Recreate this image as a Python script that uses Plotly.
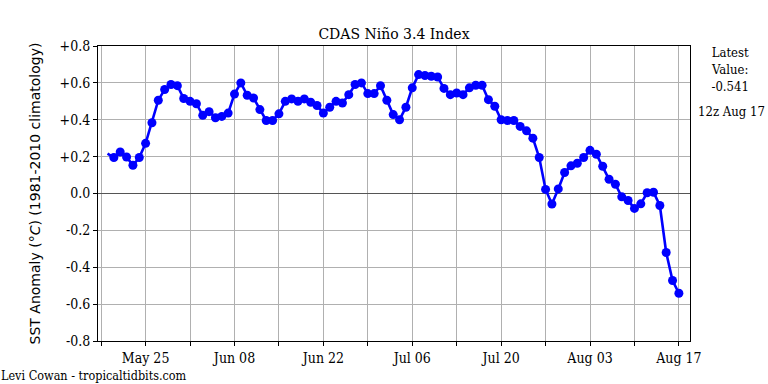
import datetime as dt
import plotly.graph_objects as go

# ---- data ----
start_date = "2020-05-19"
nino34 = [
    0.216, 0.195, 0.225, 0.198, 0.153, 0.195, 0.272, 0.384, 0.506, 0.564,
    0.591, 0.585, 0.515, 0.500, 0.487, 0.424, 0.444, 0.411, 0.418, 0.436,
    0.539, 0.600, 0.533, 0.518, 0.455, 0.396, 0.396, 0.432, 0.500, 0.513,
    0.500, 0.513, 0.495, 0.477, 0.436, 0.468, 0.500, 0.491, 0.536, 0.591,
    0.600, 0.542, 0.542, 0.585, 0.506, 0.428, 0.400, 0.468, 0.573, 0.645,
    0.640, 0.636, 0.632, 0.570, 0.536, 0.545, 0.536, 0.573, 0.587, 0.587,
    0.509, 0.473, 0.400, 0.396, 0.396, 0.364, 0.340, 0.300, 0.195, 0.022,
    -0.057, 0.025, 0.114, 0.150, 0.164, 0.195, 0.234, 0.213, 0.148, 0.077,
    0.050, -0.018, -0.038, -0.081, -0.056, 0.004, 0.007, -0.065, -0.320, -0.472,
    -0.541,
]
y_tick_values = [0.8, 0.6, 0.4, 0.2, 0.0, -0.2, -0.4, -0.6, -0.8]
y_tick_labels = ["+0.8", "+0.6", "+0.4", "+0.2", "0.0", "-0.2", "-0.4", "-0.6", "-0.8"]
x_tick_dates = ["2020-05-18", "2020-05-25", "2020-06-01", "2020-06-08", "2020-06-15",
                "2020-06-22", "2020-06-29", "2020-07-06", "2020-07-13", "2020-07-20",
                "2020-07-27", "2020-08-03", "2020-08-10", "2020-08-17"]
x_tick_labels = ["", "May 25", "", "Jun 08", "", "Jun 22", "", "Jul 06", "",
                 "Jul 20", "", "Aug 03", "", "Aug 17"]
latest_value = "-0.541"
latest_time = "12z Aug 17"

d0 = dt.date.fromisoformat(start_date)
dates = [d0 + dt.timedelta(days=i) for i in range(len(nino34))]
sizes = [0] + [9] * (len(nino34) - 1)

SERIF = "DejaVu Serif"
COND = "DejaVu Serif Condensed, DejaVu Serif"

fig = go.Figure()
fig.add_trace(go.Scatter(
    x=dates, y=nino34, mode="lines+markers",
    line=dict(color="#0000ff", width=2.6),
    marker=dict(color="#0000ff", size=sizes, line=dict(width=0), opacity=1),
    showlegend=False,
))

fig.update_layout(
    width=768, height=384,
    margin=dict(l=98, r=78, t=46, b=43),
    paper_bgcolor="white", plot_bgcolor="white",
    title=dict(text="CDAS Niño 3.4 Index", x=0.513, xanchor="center",
               y=0.912, yanchor="middle",
               font=dict(family=SERIF, size=14, color="black")),
    font=dict(family=SERIF, color="black"),
)
fig.update_xaxes(
    range=["2020-05-17 12:00", "2020-08-18 18:00"],
    tickmode="array", tickvals=x_tick_dates, ticktext=x_tick_labels,
    showgrid=True, gridcolor="#b0b0b0", gridwidth=1,
    ticks="outside", ticklen=4, tickcolor="black",
    showline=True, linecolor="black", linewidth=1, mirror=True,
    tickfont=dict(family=COND, size=14), zeroline=False,
)
fig.update_yaxes(
    range=[-0.8, 0.8],
    tickmode="array", tickvals=y_tick_values, ticktext=y_tick_labels,
    showgrid=True, gridcolor="#b0b0b0", gridwidth=1,
    ticks="outside", ticklen=4, tickcolor="black",
    showline=True, linecolor="black", linewidth=1, mirror=True,
    tickfont=dict(family=COND, size=14),
    zeroline=True, zerolinecolor="#555555", zerolinewidth=1.3,
    title=dict(text="SST Anomaly (<i>°C</i>) (1981-2010 climatology)",
               font=dict(family="DejaVu Sans", size=14), standoff=15),
)

fig.add_annotation(xref="paper", yref="paper", x=1.068, y=1.01, xanchor="center", yanchor="top",
                   text="Latest<br>Value:<br>" + latest_value, showarrow=False,
                   font=dict(family=COND, size=13), align="center")
fig.add_annotation(xref="paper", yref="paper", x=1.07, y=0.778, xanchor="center", yanchor="middle",
                   text=latest_time, showarrow=False, font=dict(family=COND, size=13))
fig.add_annotation(xref="paper", yref="paper", x=-0.167, y=-0.085, xanchor="left", yanchor="top",
                   text="Levi Cowan - tropicaltidbits.com", showarrow=False,
                   font=dict(family=COND, size=12.5))

fig.write_html("out.html", config={"displayModeBar": False},
               post_script="document.body.style.margin='0';")
